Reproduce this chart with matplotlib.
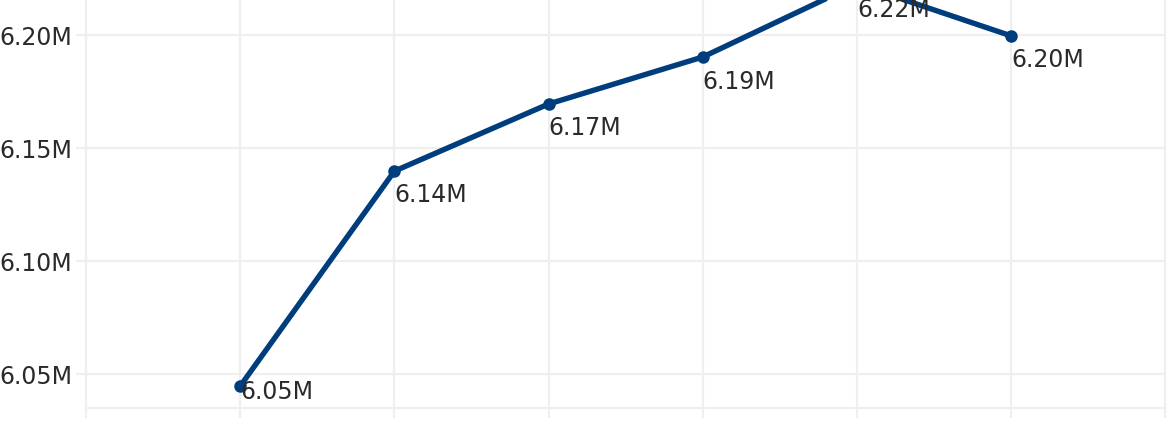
import matplotlib
matplotlib.use("Agg")
import matplotlib.pyplot as plt

# values (millions)
positions = [1, 2, 3, 4, 5, 6]
values = [6.0447, 6.1398, 6.1695, 6.1903, 6.2226, 6.1996]
labels = ["6.05M", "6.14M", "6.17M", "6.19M", "6.22M", "6.20M"]
y_ticks = [6.05, 6.10, 6.15, 6.20]
y_tick_labels = ["6.05M", "6.10M", "6.15M", "6.20M"]

line_color = "#003D7C"
grid_color = "#EFEFEF"
text_color = "#2A2A2A"

plt.rcParams['font.family'] = ['DejaVu Sans']

fig = plt.figure(figsize=(11.68, 4.30), dpi=100)
ax = fig.add_axes([86 / 1168, 22 / 430, (1165.5 - 86) / 1168, 408 / 430])

ax.plot(positions, values, color=line_color, linewidth=3.9, marker='o',
        markersize=8, solid_capstyle='round', zorder=3)

# data labels sit just under each point; the lowest one is nudged up to stay in the plot
offsets = [-4, -17, -17, -18, -18.5, -17]
for x, v, lab, off in zip(positions, values, labels, offsets):
    ax.annotate(lab, (x, v), xytext=(0, off), textcoords='offset points',
                ha='left', va='center', fontsize=17, color=text_color,
                zorder=4, annotation_clip=False)

ax.set_xlim(0, 7)
ax.set_ylim(6.035, 6.2155)
ax.set_xticks(range(0, 8))
ax.set_xticklabels([])
ax.set_yticks(y_ticks)
ax.set_yticklabels(y_tick_labels)

ax.grid(True, color=grid_color, linewidth=1.6, zorder=0)
ax.set_axisbelow(True)
for gl in ax.get_xgridlines():
    gl.set_clip_on(False)
ax.tick_params(axis='both', color=grid_color, width=1.6, length=7,
               labelsize=17, labelcolor=text_color, pad=3)
for side in ['top', 'right', 'left']:
    ax.spines[side].set_visible(False)
ax.spines['bottom'].set_color(grid_color)
ax.spines['bottom'].set_linewidth(1.6)

fig.savefig("out.png", dpi=100)
